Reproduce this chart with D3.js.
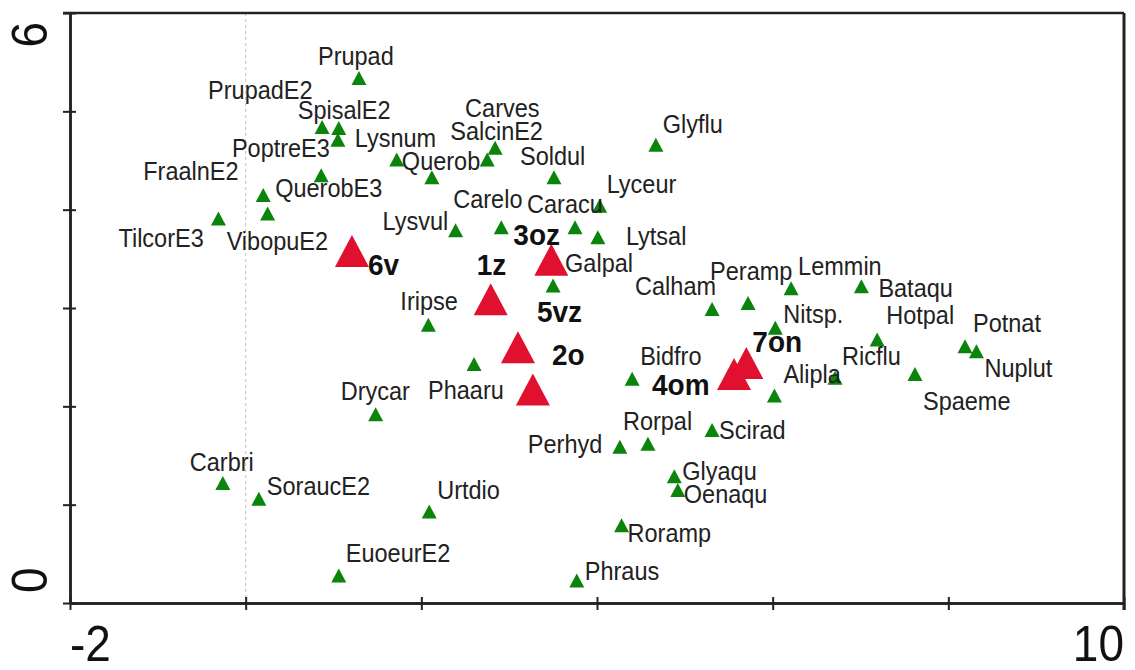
<!DOCTYPE html>
<html>
<head>
<meta charset="utf-8">
<script src="https://cdn.jsdelivr.net/npm/d3@7"></script>
<style>
  body { margin: 0; background: #fff; }
  svg { display: block; font-family: "Liberation Sans", Arial, sans-serif; }
</style>
</head>
<body>
<div id="container"></div>
<script>
/* DATA */
const species = ["Prupad","PrupadE2","SpisalE2","PoptreE3","QuerobE3","FraalnE2","VibopuE2","TilcorE3",
  "Lysnum","Querob","Carves","SalcinE2","Soldul","Glyflu","Lyceur","Carelo","Caracu","Lysvul","Lytsal",
  "Galpal","Iripse","Calham","Peramp","Lemmin","Bataqu","Nitsp.","Hotpal","Potnat","Nuplut","Ricflu",
  "Spaeme","Alipla","Bidfro","Phaaru","Drycar","Scirad","Rorpal","Perhyd","Glyaqu","Oenaqu","Urtdio",
  "Roramp","Phraus","EuoeurE2","Carbri","SoraucE2"]
const speciesX = [1.29,0.87,1.06,1.05,0.86,0.20,0.25,-0.31,
  1.72,2.12,2.84,2.75,3.51,4.67,4.03,2.91,3.75,2.39,4.01,
  3.50,2.08,5.31,5.72,6.21,7.01,6.03,7.19,8.19,8.32,6.71,
  7.62,6.02,4.40,2.60,1.48,5.31,4.58,4.26,4.88,4.92,2.09,
  4.28,3.77,1.06,-0.26,0.15]
const speciesY = [5.34,4.84,4.83,4.71,4.35,4.15,3.96,3.91,
  4.51,4.33,4.63,4.51,4.33,4.66,4.04,3.82,3.82,3.79,3.72,
  3.23,2.83,2.99,3.05,3.20,3.22,2.80,2.68,2.61,2.56,2.29,
  2.33,2.11,2.28,2.43,1.92,1.76,1.62,1.59,1.29,1.15,0.93,
  0.79,0.23,0.28,1.22,1.06]

const samples = ["6v","3oz","1z","2o","5vz","4om","7on"]
const sampleX = [1.21,3.48,2.79,3.10,3.27,5.56,5.70]
const sampleY = [3.58,3.49,3.09,2.60,2.17,2.33,2.44]

const xTickLabels = ["-2","10"]
const yTickLabels = ["6","0"]

/* LABEL PLACEMENT: pixel offset of label's left/baseline from its triangle */
const speciesLabelOffset = [[-41,-13],[-114,-28],[-41,-9],[-106,17],[-46,22],[-120,-15],[-41,36],[-100,28],
  [-42,-13],[-30,-7],[-30,-31],[-37,-20],[-34,-12],[7,-12],[7,-13],[-48,-19],[-48,-14],[-73,0],[28,8],
  [12,-13],[-28,-15],[-77,-14],[-38,-23],[7,-13],[17,11],[8,-5],[9,-15],[8,-14],[8,26],[7,-13],
  [8,36],[9,-13],[8,-14],[-46,35],[-35,-14],[7,9],[-25,-14],[-92,6],[8,4],[6,13],[8,-13],
  [6,17],[8,0],[7,-13],[-33,-12],[8,-4]]
const sampleLabelOffset = [[16,24],[-38,-15],[-14,-24],[34,18],[4,-68],[-82,21],[6,-11]]

/* CONSTANTS */
const width = 1135, height = 670
const margin = { top: 13, right: 11, bottom: 67, left: 70 }

const xScale = d3.scaleLinear()
  .domain([-2, 10])
  .range([margin.left, width - margin.right])

const yScale = d3.scaleLinear()
  .domain([0, 6])
  .range([height - margin.bottom, margin.top])

const svg = d3.select("#container")
  .append("svg")
  .attr("width", width)
  .attr("height", height)
  .style("background", "#fff")

// dotted zero line
svg.append("line")
  .attr("x1", xScale(0)).attr("x2", xScale(0))
  .attr("y1", yScale(6)).attr("y2", yScale(0))
  .attr("stroke", "#c9bfc9")
  .attr("stroke-width", 1)
  .attr("stroke-dasharray", "3,3")

// AXES (ticks cross the axis line)
const axisColor = "#222"
function styleAxis(g, w) {
  g.select(".domain").attr("stroke", axisColor).attr("stroke-width", w)
  g.selectAll(".tick line").attr("stroke", axisColor).attr("stroke-width", 2)
  g.selectAll(".tick text").remove()
}
svg.append("g")
  .attr("transform", `translate(${margin.left},0)`)
  .call(d3.axisLeft(yScale).ticks(6).tickSize(7).tickSizeOuter(0))
  .call(g => styleAxis(g, 2.5))
svg.append("g")
  .attr("transform", `translate(${margin.left},0)`)
  .call(d3.axisRight(yScale).ticks(6).tickSize(6).tickSizeOuter(0))
  .call(g => styleAxis(g, 2.5))
svg.append("g")
  .attr("transform", `translate(0,${yScale(0)})`)
  .call(d3.axisBottom(xScale).tickValues(d3.range(-2, 11, 2)).tickSize(7).tickSizeOuter(0))
  .call(g => styleAxis(g, 2.5))
svg.append("g")
  .attr("transform", `translate(0,${yScale(0)})`)
  .call(d3.axisTop(xScale).tickValues(d3.range(-2, 11, 2)).tickSize(6).tickSizeOuter(0))
  .call(g => styleAxis(g, 2.5))

// frame top and right
svg.append("line")
  .attr("x1", margin.left - 7).attr("x2", xScale(10))
  .attr("y1", yScale(6)).attr("y2", yScale(6))
  .attr("stroke", axisColor).attr("stroke-width", 2.5)
svg.append("line")
  .attr("x1", xScale(10)).attr("x2", xScale(10))
  .attr("y1", yScale(6)).attr("y2", yScale(0) + 7)
  .attr("stroke", axisColor).attr("stroke-width", 3)

// end tick labels
svg.append("text")
  .attr("transform", `translate(${xScale(-2)},661) scale(1,1.1)`)
  .attr("text-anchor", "start")
  .style("font-size", "46px").attr("fill", "#111")
  .text(xTickLabels[0])
svg.append("text")
  .attr("transform", `translate(${xScale(10)},661) scale(1,1.1)`)
  .attr("text-anchor", "end")
  .style("font-size", "46px").attr("fill", "#111")
  .text(xTickLabels[1])
svg.append("text")
  .attr("transform", `translate(47,${yScale(6) + 9}) rotate(-90) scale(1,1.1)`)
  .attr("text-anchor", "end")
  .style("font-size", "46px").attr("fill", "#111")
  .text(yTickLabels[0])
svg.append("text")
  .attr("transform", `translate(47,${yScale(0) - 10}) rotate(-90) scale(1,1.1)`)
  .attr("text-anchor", "start")
  .style("font-size", "46px").attr("fill", "#111")
  .text(yTickLabels[1])

// TRIANGLE PATH
const tri = (w, h) => `M0,${-h / 2}L${w / 2},${h / 2}L${-w / 2},${h / 2}Z`

// species points
const spData = species.map((s, i) => ({ name: s, x: speciesX[i], y: speciesY[i], off: speciesLabelOffset[i] }))
const smData = samples.map((s, i) => ({ name: s, x: sampleX[i], y: sampleY[i], off: sampleLabelOffset[i] }))

svg.append("g").selectAll("path")
  .data(spData)
  .join("path")
  .attr("d", tri(15, 14))
  .attr("transform", d => `translate(${xScale(d.x)},${yScale(d.y)})`)
  .attr("fill", "#0b840b")

svg.append("g").selectAll("text")
  .data(spData)
  .join("text")
  .attr("transform", d => `translate(${xScale(d.x) + d.off[0]},${yScale(d.y) + d.off[1]}) scale(1,1.07)`)
  .style("font-size", "23.5px")
  .attr("fill", "#222")
  .text(d => d.name)

// sample points
svg.append("g").selectAll("path")
  .data(smData)
  .join("path")
  .attr("d", tri(34, 32))
  .attr("transform", d => `translate(${xScale(d.x)},${yScale(d.y)})`)
  .attr("fill", "#e0102e")

svg.append("g").selectAll("text")
  .data(smData)
  .join("text")
  .attr("transform", d => `translate(${xScale(d.x) + d.off[0]},${yScale(d.y) + d.off[1]}) scale(1,1.07)`)
  .style("font-size", "28px")
  .style("font-weight", "bold")
  .attr("fill", "#111")
  .text(d => d.name)
</script>
</body>
</html>
